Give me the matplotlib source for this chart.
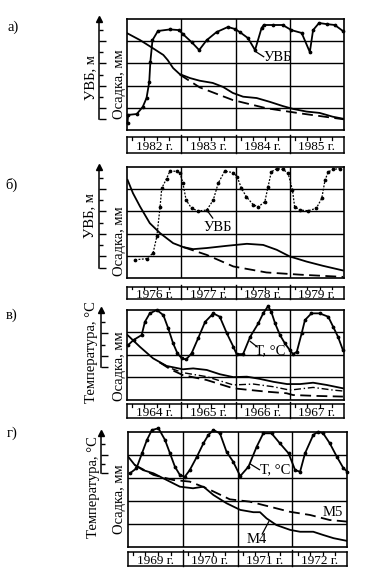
import numpy as np
import matplotlib.pyplot as plt

plt.rcParams['font.family'] = ['Liberation Serif', 'DejaVu Serif']

W, H = 384, 573

# ---- panel a) ----
a_years = ["1982 г.", "1983 г.", "1984 г.", "1985 г."]
a_uvb_x = [0.01, 0.02, 0.18, 0.29, 0.36, 0.41, 0.43, 0.47, 0.57, 0.79, 0.96, 1.03, 1.19, 1.33,
           1.47, 1.65, 1.86, 1.99, 2.08, 2.23, 2.36, 2.48, 2.52, 2.69, 2.87, 3.03, 3.22, 3.37,
           3.43, 3.54, 3.68, 3.83, 3.98]
a_uvb_y = [0.32, 0.68, 0.72, 1.04, 1.44, 2.16, 3.06, 4.05, 4.46, 4.53, 4.50, 4.32, 3.96, 3.60,
           4.05, 4.41, 4.64, 4.55, 4.41, 4.14, 3.60, 4.59, 4.73, 4.73, 4.73, 4.50, 4.37, 3.51,
           4.50, 4.82, 4.77, 4.73, 4.46]
a_set_x = [0.01, 0.24, 0.48, 0.67, 0.75, 0.85, 0.97, 1.16, 1.34, 1.58, 1.77, 1.95, 2.14, 2.39,
           2.63, 2.87, 3.06, 3.31, 3.55, 3.79, 4.0]
a_set_y = [4.35, 4.05, 3.68, 3.38, 3.15, 2.79, 2.52, 2.34, 2.22, 2.12, 1.94, 1.67, 1.50, 1.44,
           1.27, 1.08, 0.95, 0.83, 0.77, 0.60, 0.50]
a_calc_x = [0.97, 1.34, 1.95, 2.57, 3.19, 4.0]
a_calc_y = [2.50, 1.92, 1.35, 0.98, 0.75, 0.48]

# ---- panel б) ----
b_years = ["1976 г.", "1977 г.", "1978 г.", "1979 г."]
b_uvb_x = [0.15, 0.36, 0.48, 0.55, 0.61, 0.64, 0.73, 0.79, 0.92, 0.98, 1.03, 1.09, 1.19, 1.31,
           1.47, 1.59, 1.68, 1.80, 1.96, 2.03, 2.11, 2.20, 2.33, 2.42, 2.54, 2.60, 2.66, 2.76,
           2.88, 2.97, 3.05, 3.09, 3.19, 3.34, 3.49, 3.59, 3.65, 3.71, 3.80, 3.92]
b_uvb_y = [0.82, 0.87, 1.12, 1.87, 3.21, 4.04, 4.48, 4.81, 4.81, 4.71, 4.27, 3.51, 3.14, 3.02,
           3.06, 3.51, 4.26, 4.81, 4.75, 4.56, 4.04, 3.66, 3.29, 3.21, 3.43, 4.11, 4.78, 4.93,
           4.89, 4.71, 3.96, 3.21, 3.06, 3.03, 3.14, 3.59, 4.41, 4.78, 4.89, 4.93]
b_set_x = [0.01, 0.11, 0.24, 0.42, 0.61, 0.85, 1.04, 1.22, 1.47, 1.84, 2.21, 2.51, 2.76, 3.0,
           3.31, 3.61, 3.98]
b_set_y = [4.42, 3.82, 3.22, 2.47, 2.02, 1.57, 1.39, 1.30, 1.35, 1.45, 1.54, 1.49, 1.27, 0.97,
           0.74, 0.55, 0.34]
b_calc_x = [1.04, 1.47, 1.96, 2.57, 3.19, 3.98]
b_calc_y = [1.39, 1.04, 0.52, 0.25, 0.15, 0.05]

# ---- panel в) ----
c_years = ["1964 г.", "1965 г.", "1966 г.", "1967 г."]
c_t_x = [0.02, 0.12, 0.27, 0.33, 0.42, 0.55, 0.67, 0.76, 0.85, 0.93, 1.01, 1.09, 1.19, 1.31,
         1.44, 1.56, 1.59, 1.71, 1.84, 1.96, 2.02, 2.14, 2.27, 2.42, 2.51, 2.60, 2.66, 2.73,
         2.82, 2.91, 3.0, 3.06, 3.13, 3.22, 3.28, 3.40, 3.55, 3.71, 3.80, 3.89, 3.98]
c_t_y = [2.43, 2.66, 2.88, 3.47, 3.85, 4.0, 3.77, 3.18, 2.51, 2.06, 1.84, 1.79, 2.06, 2.73,
         3.47, 3.77, 3.85, 3.70, 2.96, 2.36, 2.03, 2.03, 2.80, 3.40, 3.85, 4.17, 3.92, 3.40,
         2.88, 2.51, 2.21, 2.03, 2.13, 2.96, 3.55, 3.85, 3.85, 3.70, 3.25, 2.80, 2.21]
c_s1_x = [0.01, 0.24, 0.48, 0.73, 1.03, 1.22, 1.47, 1.71, 1.96, 2.21, 2.45, 2.70, 2.95, 3.19,
          3.43, 3.68, 3.98]
c_s1_y = [2.88, 2.35, 1.84, 1.50, 1.35, 1.39, 1.32, 1.13, 1.0, 1.02, 0.92, 0.79, 0.69, 0.69,
          0.75, 0.65, 0.50]
c_s2_x = [0.6, 0.8, 1.03, 1.47, 1.96, 2.33, 2.70, 3.0, 3.43, 3.80, 3.98]
c_s2_y = [1.66, 1.40, 1.20, 1.02, 0.65, 0.69, 0.57, 0.42, 0.54, 0.42, 0.38]
c_s3_x = [0.6, 0.8, 1.03, 1.47, 1.96, 2.57, 2.94, 3.06, 3.49, 3.98]
c_s3_y = [1.66, 1.35, 1.09, 0.87, 0.50, 0.35, 0.28, 0.20, 0.16, 0.13]

# ---- panel г) ----
d_years = ["1969 г.", "1970 г.", "1971 г.", "1972 г."]
d_t_x = [0.04, 0.16, 0.26, 0.35, 0.44, 0.56, 0.68, 0.77, 0.86, 0.95, 1.04, 1.13, 1.26, 1.38,
         1.47, 1.56, 1.68, 1.80, 1.92, 2.05, 2.20, 2.35, 2.47, 2.62, 2.77, 2.93, 3.05, 3.14,
         3.23, 3.38, 3.47, 3.56, 3.68, 3.81, 3.93, 4.0]
d_t_y = [3.19, 3.41, 4.06, 4.64, 5.07, 5.15, 4.64, 4.06, 3.48, 3.12, 3.04, 3.33, 3.91, 4.50,
         4.86, 5.07, 4.93, 4.13, 3.70, 3.07, 3.48, 4.35, 4.93, 4.93, 4.50, 4.06, 3.33, 3.26,
         4.06, 4.86, 5.0, 4.93, 4.50, 3.91, 3.41, 3.26]
d_m4_x = [0.01, 0.13, 0.28, 0.47, 0.71, 0.95, 1.19, 1.38, 1.56, 1.80, 2.05, 2.29, 2.41, 2.53,
          2.71, 2.96, 3.14, 3.38, 3.56, 3.75, 4.0]
d_m4_y = [3.91, 3.55, 3.33, 3.19, 2.90, 2.61, 2.54, 2.61, 2.25, 1.89, 1.60, 1.50, 1.50, 1.23,
          0.94, 0.73, 0.65, 0.65, 0.51, 0.37, 0.25]
d_m5_x = [0.13, 0.47, 0.83, 1.13, 1.44, 1.86, 2.22, 2.59, 2.95, 3.32, 3.68, 4.0]
d_m5_y = [3.55, 3.12, 2.90, 2.83, 2.54, 2.06, 1.96, 1.74, 1.52, 1.38, 1.16, 1.09]

year_ticks = [0.1, 0.32, 0.55, 0.78]


def px_axes(fig, x0, y0, x1, y1):
    return fig.add_axes([x0 / W, 1 - y1 / H, (x1 - x0) / W, (y1 - y0) / H])


def main_box(fig, x0, y0, x1, y1, nrows):
    ax = px_axes(fig, x0, y0, x1, y1)
    ax.set_xlim(0, 4)
    ax.set_ylim(0, nrows)
    ax.set_xticks([1, 2, 3])
    ax.set_yticks(range(1, nrows))
    ax.grid(True, color='k', lw=1.0)
    ax.tick_params(length=0, labelbottom=False, labelleft=False)
    for s in ax.spines.values():
        s.set_linewidth(1.2)
    ax.patch.set_alpha(0)
    return ax


def year_strip(fig, x0, y0, x1, y1, labels):
    ax = px_axes(fig, x0, y0, x1, y1)
    ax.set_xlim(0, 4)
    ax.set_ylim(0, 1)
    ax.set_xticks([])
    ax.set_yticks([])
    for s in ax.spines.values():
        s.set_linewidth(1.1)
    for i in range(1, 4):
        ax.plot([i, i], [0, 1.15], color='k', lw=1.0, clip_on=False)
    for i, lab in enumerate(labels):
        ax.text(i + 0.5, 0.36, lab, ha='center', va='center', fontsize=9.5)
        for t in year_ticks:
            ax.plot([i + t, i + t], [0.82, 1], color='k', lw=0.9)


def side_axis(fig, x, y0, y1, top, lo, hi, major, minor):
    ax = px_axes(fig, x, y0, x + 12, y1)
    ax.set_xlim(0, 1)
    ax.set_ylim(0, top)
    for k in ['top', 'right', 'bottom']:
        ax.spines[k].set_visible(False)
    ax.spines['left'].set_bounds(lo, hi)
    ax.spines['left'].set_linewidth(1.1)
    ax.set_xticks([])
    ax.set_yticks(major)
    ax.set_yticks(minor, minor=True)
    ax.tick_params(axis='y', which='major', direction='in', length=5, width=1.0, labelleft=False)
    ax.tick_params(axis='y', which='minor', direction='in', length=3, width=1.0)
    ax.plot([0], [hi], marker='^', ms=4, color='k', clip_on=False)
    ax.patch.set_alpha(0)


def ylabels(fig, x1, y1, t1, x2, y2):
    fig.text(x1 / W, 1 - y1 / H, t1, rotation=90, ha='center', va='center', fontsize=10.5)
    fig.text(x2 / W, 1 - y2 / H, "Осадка, мм", rotation=90, ha='center', va='center', fontsize=10.5)


fig = plt.figure(figsize=(W / 100, H / 100), dpi=100)

lw = 1.3
ms = 1.7
dash = (0, (6, 3))

# a)
ax = main_box(fig, 127, 19, 344, 130, 5)
ax.plot(a_uvb_x, a_uvb_y, '-', color='k', lw=lw, marker='o', ms=ms, clip_on=False)
ax.plot(a_set_x, a_set_y, '-', color='k', lw=lw)
ax.plot(a_calc_x, a_calc_y, color='k', lw=lw, linestyle=dash)
ax.plot([2.36, 2.52], [3.55, 3.3], color='k', lw=0.9)
ax.text(2.78, 3.25, "УВБ", ha='center', va='center', fontsize=10.5)
year_strip(fig, 127, 137, 344, 153, a_years)
side_axis(fig, 99, 19, 130, 5, 0.5, 5, [0.5, 1, 2, 3, 4], [1.5, 2.5, 3.5, 4.5])
ylabels(fig, 91, 78, "УВБ, м", 119, 84)
fig.text(13 / W, 1 - 27 / H, "а)", ha='center', va='center', fontsize=10.5)

# б)
ax = main_box(fig, 127, 167, 344, 278, 5)
ax.plot(b_uvb_x, b_uvb_y, color='k', lw=0.9, linestyle=(0, (1.5, 1.2)), marker='o', ms=ms,
        clip_on=False)
ax.plot(b_set_x, b_set_y, '-', color='k', lw=lw)
ax.plot(b_calc_x, b_calc_y, color='k', lw=lw, linestyle=dash)
ax.plot([1.49, 1.58], [3.0, 2.7], color='k', lw=0.9)
ax.text(1.67, 2.28, "УВБ", ha='center', va='center', fontsize=10.5)
year_strip(fig, 127, 287, 344, 299, b_years)
side_axis(fig, 99, 167, 278, 5, 0.45, 5, [0.45, 1, 2, 3, 4], [1.5, 2.5, 3.5, 4.5])
ylabels(fig, 90, 216, "УВБ, м", 119, 241)
fig.text(12 / W, 1 - 185 / H, "б)", ha='center', va='center', fontsize=10.5)

# в)
ax = main_box(fig, 127, 310, 344, 399.5, 4)
ax.plot(c_t_x, c_t_y, '-', color='k', lw=lw, marker='o', ms=ms, clip_on=False)
ax.plot(c_s1_x, c_s1_y, '-', color='k', lw=lw)
ax.plot(c_s2_x, c_s2_y, color='k', lw=1.0, linestyle=(0, (5, 2, 1, 2)))
ax.plot(c_s3_x, c_s3_y, color='k', lw=lw, linestyle=dash)
ax.plot([2.27, 2.4], [2.6, 2.35], color='k', lw=0.9)
ax.text(2.64, 2.16, "Т, °С", ha='center', va='center', fontsize=10.5)
year_strip(fig, 127, 404, 344, 418, c_years)
side_axis(fig, 100.7, 310, 399.5, 4, 1.45, 4, [1.45, 1.94, 2.95], [2.43, 3.47])
ylabels(fig, 92, 352, "Температура, °С", 120, 366)
fig.text(12 / W, 1 - 315 / H, "в)", ha='center', va='center', fontsize=10.5)

# г)
ax = main_box(fig, 127.7, 431.7, 347.3, 546.7, 5)
ax.plot(d_t_x, d_t_y, '-', color='k', lw=lw, marker='o', ms=ms, clip_on=False)
ax.plot(d_m4_x, d_m4_y, '-', color='k', lw=lw)
ax.plot(d_m5_x, d_m5_y, color='k', lw=lw, linestyle=dash)
ax.plot([2.23, 2.4], [3.6, 3.35], color='k', lw=0.9)
ax.plot([2.57, 2.45], [1.09, 0.55], color='k', lw=0.9)
ax.text(2.68, 3.37, "Т, °С", ha='center', va='center', fontsize=10.5)
ax.text(3.74, 1.5, "M5", ha='center', va='center', fontsize=10.5)
ax.text(2.35, 0.3, "M4", ha='center', va='center', fontsize=10.5)
year_strip(fig, 127.7, 552, 347.3, 566, d_years)
side_axis(fig, 100.7, 431.7, 546.7, 5, 3.2, 4.95, [3.2, 4.0], [3.6, 4.45])
ylabels(fig, 93, 487, "Температура, °С", 119, 499)
fig.text(12 / W, 1 - 433 / H, "г)", ha='center', va='center', fontsize=10.5)

fig.savefig("out.png", dpi=100)
